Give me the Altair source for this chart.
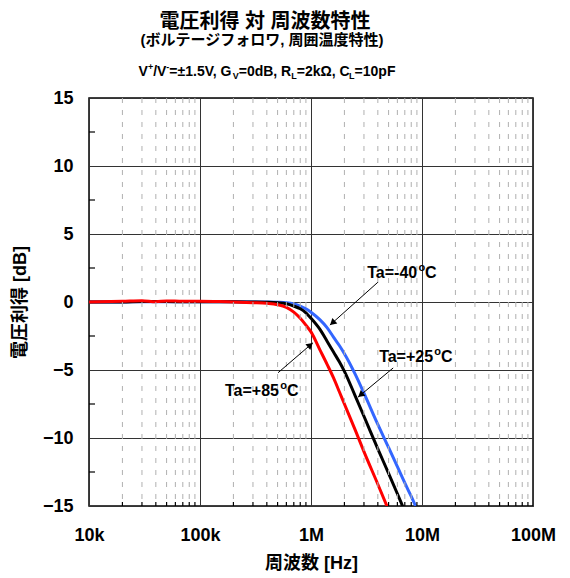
import math
import altair as alt
import pandas as pd

# ---------------- data ----------------
freq = [1e4, 2e4, 3e4, 4e4, 5e4, 7e4, 1e5, 1.5e5, 2e5, 3e5, 4e5, 5e5, 6e5, 7e5,
        8e5, 9e5, 1e6, 1.2e6, 1.4e6, 1.6e6, 1.8e6, 2e6, 2.5e6, 3e6, 4e6, 5e6,
        6e6, 7e6, 8e6, 9e6, 1e7]
gain_m40 = [0.0, 0.0, 0.02, 0.02, 0.02, 0.02, 0.02, 0.02, 0.01, 0.0, 0.0, -0.02,
            -0.06, -0.15, -0.3, -0.5, -0.75, -1.3, -1.9, -2.6, -3.2, -3.8, -5.3,
            -6.7, -9.0, -10.7, -12.1, -13.3, -14.3, -15.2, -16.0]
gain_25 = [0.0, 0.0, 0.03, 0.03, 0.03, 0.02, 0.02, 0.02, 0.01, 0.0, -0.02, -0.06,
           -0.13, -0.3, -0.5, -0.8, -1.2, -2.0, -2.9, -3.7, -4.4, -5.1, -6.9,
           -8.4, -10.8, -12.6, -14.1, -15.4, -16.5, -17.5, -18.4]
gain_85 = [0.0, 0.05, 0.1, 0.02, 0.08, 0.05, 0.05, 0.03, 0.0, -0.05, -0.1, -0.2,
           -0.4, -0.75, -1.2, -1.7, -2.2, -3.5, -4.6, -5.6, -6.6, -7.5, -9.4,
           -11.0, -13.4, -15.3, -16.9, -18.2, -19.3, -20.3, -21.2]
series_names = ["Ta=-40°C", "Ta=+25°C", "Ta=+85°C"]
series_colors = ["#3366FF", "#000000", "#FF0000"]

x_ticks = [1e4, 1e5, 1e6, 1e7, 1e8]
x_tick_labels = ["10k", "100k", "1M", "10M", "100M"]
y_ticks = [-15, -10, -5, 0, 5, 10, 15]
y_minor = [-12.5, -7.5, -2.5, 2.5, 7.5, 12.5]
minor_mult = [2, 3, 4, 5, 6, 7, 8, 9]

# annotations (data coordinates)
ann_main = ["Ta=-40", "Ta=+25", "Ta=+85"]
ann_text_f = [6.6e6, 8.8e6, 3.6e5]
ann_text_db = [2.2, -4.0, -6.5]
arr_f1 = [4.0e6, 5.5e6, 5.05e5]
arr_db1 = [1.45, -4.85, -5.2]
arr_f2 = [1.48e6, 2.65e6, 1.04e6]
arr_db2 = [-1.7, -7.0, -3.0]

title1 = "電圧利得 対 周波数特性"
title2 = "(ボルテージフォロワ, 周囲温度特性)"
# third line: (text, role) role: m=main, sup, sub
title3 = [("V", "m"), ("+", "sup"), ("/V", "m"), ("-", "sup"), ("=±1.5V, G", "m"),
          ("V", "sub"), ("=0dB, R", "m"), ("L", "sub"), ("=2kΩ, C", "m"),
          ("L", "sub"), ("=10pF", "m")]

# ---------------- layout ----------------
W, H = 444, 408
LEFT, TOP = 89, 98
FONT = "Liberation Sans, Arial, Noto Sans CJK JP, sans-serif"
widths = {"V": 667, "+": 584, "/": 278, "=": 584, "±": 549, "1": 556, ".": 278,
          "5": 556, ",": 278, " ": 278, "G": 778, "0": 556, "d": 611, "B": 722,
          "R": 722, "2": 556, "k": 556, "Ω": 768, "C": 722, "p": 611, "F": 611,
          "L": 611, "-": 333, "T": 611, "a": 556, "4": 556, "8": 556, "o": 611}


def tw(t, s):
    return sum(widths.get(c, 600) for c in t) * s / 1000


rows = []
for i, (name, g) in enumerate(zip(series_names, [gain_m40, gain_25, gain_85])):
    for f, d in zip(freq, g):
        rows.append({"f": f, "db": d, "series": name, "order": i})
df = pd.DataFrame(rows)

xscale = alt.Scale(type="log", domain=[1e4, 1e8], nice=False)
yscale = alt.Scale(domain=[-15, 15], nice=False, zero=False)

label_parts = []
for v, l in zip(x_ticks, x_tick_labels):
    label_parts.append(f"abs(datum.value - {v:.0f}) < 1 ? '{l}'")
label_expr = " : ".join(label_parts) + " : ''"

curves = alt.Chart(df).mark_line(strokeWidth=3, clip=True, interpolate="monotone").encode(
    x=alt.X("f:Q", scale=xscale, axis=alt.Axis(
        values=x_ticks, labelExpr=label_expr, title="周波数 [Hz]", grid=True,
        gridColor="#333333", gridWidth=1, ticks=False, domain=False,
        labelPadding=20, titlePadding=10, labelFlush=False, labelOverlap=False)),
    y=alt.Y("db:Q", scale=yscale, axis=alt.Axis(
        values=y_ticks, title="電圧利得 [dB]", grid=True, gridColor="#333333",
        gridWidth=1, ticks=False, domain=False, labelPadding=16, titlePadding=13)),
    color=alt.Color("series:N", scale=alt.Scale(domain=series_names, range=series_colors), legend=None),
    order=alt.Order("order:Q"),
    detail="series:N",
)

minor_f = [m * 10 ** e for e in range(4, 8) for m in minor_mult]
mdf = pd.DataFrame({"f": minor_f})
minor_grid = alt.Chart(mdf).mark_rule(color="#b0b0b0", strokeWidth=1, strokeDash=[5, 7]).encode(
    x=alt.X("f:Q", scale=xscale), y=alt.value(0), y2=alt.value(H))
minor_ticks_x = alt.Chart(mdf).mark_rule(color="#000000", strokeWidth=1.2).encode(
    x=alt.X("f:Q", scale=xscale), y=alt.value(H), y2=alt.value(H - 4))
ydf = pd.DataFrame({"db": y_minor})
minor_ticks_y = alt.Chart(ydf).mark_rule(color="#000000", strokeWidth=1.2).encode(
    y=alt.Y("db:Q", scale=yscale), x=alt.value(0), x2=alt.value(6))


def px(f):
    return W * (math.log10(f) - 4) / 4


def py(d):
    return H * (15 - d) / 30


def inv_f(x):
    return 10 ** (4 + 4 * x / W)


def inv_db(y):
    return 15 - 30 * y / H


arows, hrows = [], []
for f1, d1, f2, d2 in zip(arr_f1, arr_db1, arr_f2, arr_db2):
    arows.append({"f": f1, "db": d1, "f2": f2, "db2": d2})
    dx, dy = px(f2) - px(f1), py(d2) - py(d1)
    L = math.hypot(dx, dy)
    ang = math.degrees(math.atan2(dx, -dy)) % 360
    back = 4.5
    hx, hy = px(f2) - dx / L * back, py(d2) - dy / L * back
    hrows.append({"f": inv_f(hx), "db": inv_db(hy), "ang": ang})
arrows = alt.Chart(pd.DataFrame(arows)).mark_rule(color="black", strokeWidth=1).encode(
    x=alt.X("f:Q", scale=xscale), x2="f2:Q", y=alt.Y("db:Q", scale=yscale), y2="db2:Q")
heads = alt.Chart(pd.DataFrame(hrows)).mark_point(
    shape="triangle", filled=True, size=55, color="black", opacity=1).encode(
    x=alt.X("f:Q", scale=xscale), y=alt.Y("db:Q", scale=yscale),
    angle=alt.Angle("ang:Q", scale=None))

# annotation labels: main part + superscript "o" + "C"
ANN, ANN_S = 16, 11
ann_layers = []
for i, (t, f, d) in enumerate(zip(ann_main, ann_text_f, ann_text_db)):
    total = tw(t, ANN) + tw("o", ANN_S) + tw("C", ANN)
    start = -total / 2
    adf = pd.DataFrame({"f": [f], "db": [d]})
    for txt, s, dy in [(t, ANN, 6), ("o", ANN_S, -1), ("C", ANN, 6)]:
        ann_layers.append(alt.Chart(adf).mark_text(
            text=txt, font=FONT, fontSize=s, fontWeight="bold", color="black",
            align="left", baseline="alphabetic", dx=start, dy=dy).encode(
            x=alt.X("f:Q", scale=xscale), y=alt.Y("db:Q", scale=yscale)))
        start += tw(txt, s)

# ---- title texts (pixel positions relative to plot origin) ----
one = pd.DataFrame({"k": [0]})
title_layers = [
    alt.Chart(one).mark_text(text=title1, font=FONT, fontSize=20, fontWeight="bold",
                             align="center", baseline="middle", color="black").encode(
        x=alt.value(265 - LEFT), y=alt.value(22 - TOP)),
    alt.Chart(one).mark_text(text=title2, font=FONT, fontSize=15, fontWeight="bold",
                             align="center", baseline="middle", color="black").encode(
        x=alt.value(262 - LEFT), y=alt.value(40 - TOP)),
]
MAIN, SMALL = 14, 9
sizes = {"m": MAIN, "sup": SMALL, "sub": SMALL}
total = sum(tw(t, sizes[r]) for t, r in title3)
x0 = 267 - total / 2
base_y = 76 - TOP
for t, r in title3:
    s = sizes[r]
    yy = base_y + {"m": 0, "sup": -6, "sub": 3}[r]
    title_layers.append(
        alt.Chart(one).mark_text(text=t, font=FONT, fontSize=s, fontWeight="bold",
                                 align="left", baseline="alphabetic", color="black").encode(
            x=alt.value(x0 - LEFT), y=alt.value(yy)))
    x0 += tw(t, s)

chart = alt.layer(
    curves, minor_grid, minor_ticks_x, minor_ticks_y, arrows, heads, *ann_layers, *title_layers
).properties(
    width=W, height=H,
    autosize=alt.AutoSizeParams(type="none"),
    padding={"left": LEFT, "top": TOP, "right": 570 - LEFT - W, "bottom": 578 - TOP - H},
    background="white",
).configure_view(stroke="black", strokeWidth=1.5).configure_axis(
    labelFont=FONT, labelFontSize=18, labelFontWeight="bold", labelColor="black",
    titleFont=FONT, titleFontSize=18, titleFontWeight="bold", titleColor="black",
)

chart.save("out.html", embed_options={"renderer": "svg", "actions": False})
